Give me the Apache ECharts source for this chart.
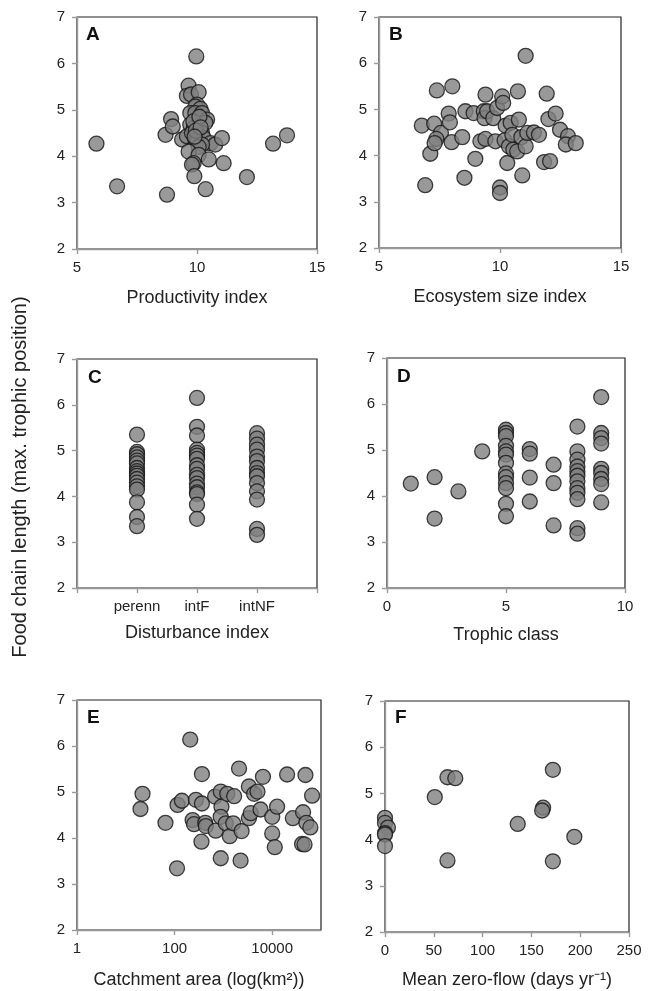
<!DOCTYPE html>
<html>
<head>
<meta charset="utf-8">
<script src="https://cdn.jsdelivr.net/npm/echarts@6/dist/echarts.min.js"></script>
<style>
html,body{margin:0;padding:0;background:#fff;}
#c{width:649px;height:991px;}
</style>
</head>
<body>
<div id="c"></div>
<script>
// ---------- DATA ----------
const yTitle = 'Food chain length (max. trophic position)';
const panelLetters = ['A', 'B', 'C', 'D', 'E', 'F'];
const xTitles = ['Productivity index', 'Ecosystem size index', 'Disturbance index', 'Trophic class', 'Catchment area (log(km²))', 'Mean zero-flow (days yr⁻¹)'];

// A: productivity index vs FCL
const productivity = [
  [9.97,6.15],[5.81,4.27],[6.67,3.35],[8.75,3.17],[8.69,4.46],[8.92,4.80],[8.99,4.64],[9.38,4.36],
  [9.58,4.43],[9.65,5.52],[9.58,5.30],[9.75,5.33],[10.07,5.38],[10.0,5.11],[9.93,5.07],[10.14,5.02],
  [9.72,4.93],[9.93,4.93],[10.21,4.93],[10.42,4.79],[10.35,4.72],[9.72,4.68],[9.86,4.60],[9.79,4.50],
  [10.0,4.46],[10.21,4.50],[9.93,4.36],[10.0,4.32],[10.28,4.39],[10.56,4.28],[10.76,4.25],[11.04,4.39],
  [10.21,4.25],[10.07,4.20],[9.65,4.10],[10.07,4.03],[10.49,3.93],[9.86,3.85],[9.79,3.82],[11.11,3.85],
  [9.89,3.57],[10.36,3.29],[12.08,3.55],[13.17,4.27],[13.75,4.45],[9.85,4.75],[10.1,4.85],[9.95,4.55],
  [10.15,4.62],[9.9,4.42]
];

// B: ecosystem size index vs FCL
const ecosystemSize = [
  [6.91,3.36],[6.77,4.65],[7.12,4.04],[7.28,4.69],[7.39,5.41],[7.56,4.49],[7.37,4.36],[7.30,4.27],
  [8.03,5.50],[7.88,4.91],[7.93,4.72],[8.00,4.29],[8.44,4.40],[8.57,4.96],[8.91,4.92],[8.98,3.93],
  [8.53,3.52],[9.19,4.31],[9.33,4.96],[9.36,4.81],[9.40,5.32],[9.40,4.36],[9.47,4.96],[9.72,4.81],
  [9.81,4.31],[9.88,5.03],[10.09,5.28],[10.13,5.14],[10.23,4.65],[10.19,4.33],[10.37,4.20],[10.30,3.84],
  [10.0,3.31],[10.0,3.19],[10.44,4.71],[10.51,4.45],[10.55,4.13],[10.71,4.09],[10.74,5.39],[10.78,4.78],
  [10.88,4.40],[10.92,3.57],[11.06,6.16],[11.06,4.20],[11.13,4.49],[11.40,4.50],[11.61,4.45],[11.93,5.34],
  [12.00,4.79],[11.82,3.86],[12.07,3.88],[12.30,4.91],[12.48,4.56],[12.81,4.42],[12.72,4.24],[13.13,4.27]
];

// C: disturbance index categories
const disturbanceCats = ['perenn', 'intF', 'intNF'];
const perennFCL = [5.35,4.97,4.92,4.85,4.78,4.72,4.62,4.55,4.50,4.45,4.38,4.30,4.22,4.15,3.87,3.55,3.35];
const intFFCL = [6.15,5.52,5.33,5.02,4.95,4.89,4.82,4.68,4.60,4.47,4.40,4.28,4.20,4.09,4.05,3.82,3.51];
const intNFFCL = [5.38,5.26,5.13,5.02,4.87,4.77,4.62,4.51,4.44,4.29,4.11,3.93,3.29,3.16];

// D: trophic class vs FCL
const trophicClass = [
  [1,4.27],[2,4.41],[2,3.51],[3,4.10],[4,4.97],
  [5,5.44],[5,5.37],[5,5.30],[5,5.09],[5,4.97],[5,4.90],[5,4.72],[5,4.49],[5,4.41],[5,4.28],[5,4.17],[5,3.83],[5,3.56],
  [6,5.02],[6,4.92],[6,4.40],[6,3.88],
  [7,4.68],[7,4.28],[7,3.36],
  [8,5.51],[8,4.97],[8,4.79],[8,4.64],[8,4.54],[8,4.44],[8,4.32],[8,4.17],[8,4.07],[8,3.93],[8,3.30],[8,3.18],
  [9,6.15],[9,5.37],[9,5.26],[9,5.14],[9,4.59],[9,4.50],[9,4.37],[9,4.26],[9,3.86]
];

// E: catchment area (km2, log axis) vs FCL
const catchment = [
  [22,4.96],[20,4.63],[65,4.33],[112,3.34],[115,4.72],[141,4.81],[209,6.14],[273,4.83],
  [234,4.39],[250,4.30],[363,5.39],[363,4.75],[355,3.92],[425,4.33],[436,4.26],[676,4.90],[695,4.16],
  [883,5.01],[912,4.68],[880,4.46],[883,3.56],[1200,4.96],[1120,4.32],[1350,4.04],[1590,4.32],
  [1660,4.91],[2090,5.51],[2360,4.15],[2250,3.51],[3330,4.43],[3630,4.54],[3330,5.12],[4260,4.96],
  [5000,5.01],[6460,5.33],[5770,4.62],[10000,4.46],[10000,4.10],[11300,3.80],[12600,4.68],[20200,5.38],
  [26500,4.43],[48000,5.37],[42900,4.56],[40900,3.87],[46000,3.86],[50000,4.33],[60500,4.23],[65700,4.92]
];

// F: mean zero-flow days vs FCL
const zeroFlow = [
  [0,4.47],[0,4.36],[3,4.26],[0,4.14],[0,4.11],[0,3.86],[51,4.92],[64,5.35],[72,5.33],[64,3.55],
  [136,4.34],[162,4.69],[161,4.63],[172,5.51],[172,3.53],[194,4.06]
];

// ---------- CHART ----------
const chart = echarts.init(document.getElementById('c'), null, {renderer: 'canvas'});
const FONT = 'Liberation Sans, Arial, sans-serif';
const grids = [
  {left: 77, top: 17, width: 240, height: 232},
  {left: 379, top: 17, width: 242, height: 231},
  {left: 77, top: 359, width: 240, height: 229},
  {left: 387, top: 358, width: 238, height: 230},
  {left: 77, top: 700, width: 244, height: 230},
  {left: 385, top: 701, width: 244, height: 231}
];
const nameGaps = [40, 40, 36, 38, 41, 39];
const axisLineStyle = {color: '#9a9a9a', width: 1.4};
const labelStyle = {color: '#222', fontSize: 15, fontFamily: FONT};

const xAxisCfg = [
  {type: 'value', min: 5, max: 15, interval: 5},
  {type: 'value', min: 5, max: 15, interval: 5},
  {type: 'value', min: 0, max: 4, interval: 1, axisLabel: {formatter: v => (v >= 1 && v <= 3) ? disturbanceCats[v - 1] : ''}},
  {type: 'value', min: 0, max: 10, interval: 5},
  {type: 'log', logBase: 100, min: 1, max: 100000, axisLabel: {showMaxLabel: false, formatter: v => String(Math.round(v))}},
  {type: 'value', min: 0, max: 250, interval: 50}
];

const xAxes = xAxisCfg.map((c, i) => Object.assign({
  gridIndex: i,
  name: xTitles[i],
  nameLocation: 'middle',
  nameGap: nameGaps[i],
  nameTextStyle: {color: '#222', fontSize: 18, fontFamily: FONT},
  splitLine: {show: false},
  axisLine: {show: true, lineStyle: axisLineStyle, onZero: false},
  axisTick: {show: true, length: 5, lineStyle: axisLineStyle}
}, c, {
  axisLabel: Object.assign({margin: 11}, labelStyle, c.axisLabel || {})
}));

const yAxes = grids.map((g, i) => ({
  gridIndex: i,
  type: 'value', min: 2, max: 7, interval: 1,
  splitLine: {show: false},
  axisLine: {show: true, lineStyle: axisLineStyle, onZero: false},
  axisTick: {show: true, length: 5, lineStyle: axisLineStyle},
  axisLabel: Object.assign({margin: 12}, labelStyle)
}));

const markerStyle = {color: '#7f7f7f', borderColor: '#151515', borderWidth: 1.3};
function sc(i, data) {
  return {type: 'scatter', xAxisIndex: i, yAxisIndex: i, data: data, symbolSize: 15, itemStyle: markerStyle, animation: false};
}
const disturbanceData = [];
[perennFCL, intFFCL, intNFFCL].forEach((arr, k) => arr.forEach(v => disturbanceData.push([k + 1, v])));

const letterPos = [[86, 35], [389, 35], [88, 378], [397, 377], [87, 718], [395, 718]];
const graphics = panelLetters.map((l, i) => ({
  type: 'text', x: letterPos[i][0], y: letterPos[i][1],
  style: {text: l, font: 'bold 19px ' + FONT, fill: '#111', align: 'left', verticalAlign: 'middle'}
}));
graphics.push({
  type: 'text', x: 20, y: 477, rotation: Math.PI / 2,
  style: {text: yTitle, font: '20px ' + FONT, fill: '#222', align: 'center', verticalAlign: 'middle'}
});

chart.setOption({
  animation: false,
  backgroundColor: '#fff',
  grid: grids.map(g => Object.assign({show: true, borderColor: '#222', borderWidth: 1.2, backgroundColor: 'transparent'}, g)),
  xAxis: xAxes,
  yAxis: yAxes,
  series: [sc(0, productivity), sc(1, ecosystemSize), sc(2, disturbanceData), sc(3, trophicClass), sc(4, catchment), sc(5, zeroFlow)],
  graphic: graphics
});
</script>
</body>
</html>
